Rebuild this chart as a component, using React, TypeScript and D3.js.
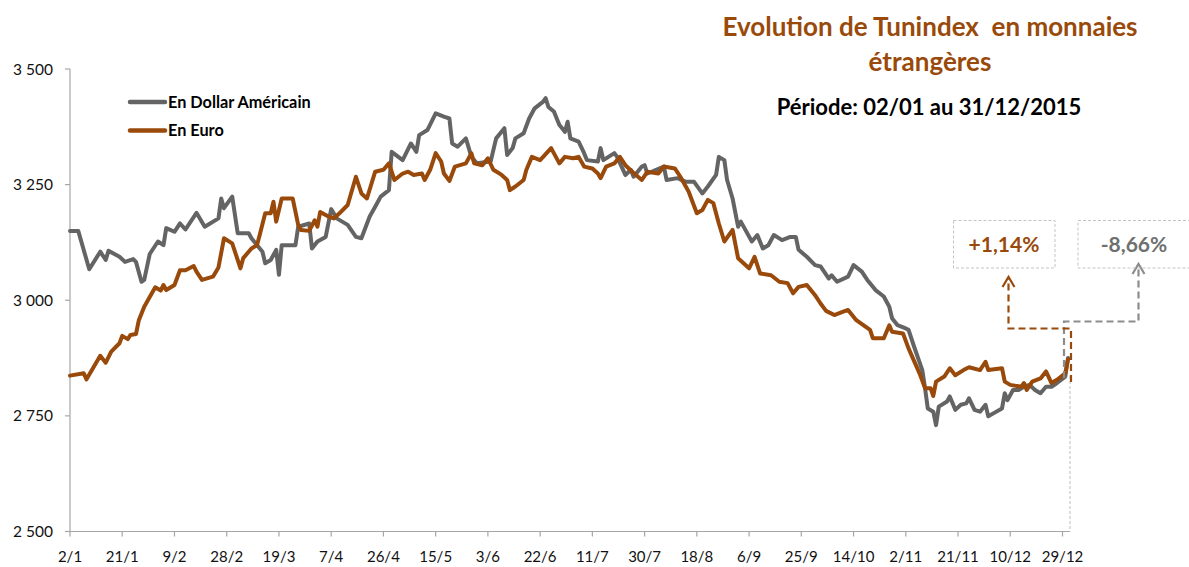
import React from "react";
import * as d3 from "d3";

// ---- Data ----
const usdDates = [
  "2/1","5/1","9/1","13/1","15/1","16/1","20/1","22/1","25/1","26/1",
  "28/1","29/1","31/1","3/2","5/2","6/2","9/2","11/2","13/2","17/2",
  "20/2","25/2","26/2","27/2","2/3","4/3","8/3","9/3","13/3","14/3",
  "16/3","18/3","19/3","20/3","25/3","26/3","30/3","31/3","2/4","5/4",
  "7/4","9/4","11/4","13/4","16/4","18/4","21/4","23/4","25/4","28/4",
  "29/4","3/5","6/5","8/5","9/5","12/5","15/5","18/5","20/5","21/5",
  "23/5","26/5","28/5","30/5","4/6","6/6","9/6","10/6","12/6","13/6",
  "16/6","18/6","20/6","23/6","24/6","25/6","27/6","29/6","30/6","1/7",
  "2/7","3/7","6/7","8/7","9/7","13/7","14/7","15/7","19/7","20/7",
  "23/7","25/7","26/7","29/7","30/7","31/7","6/8","7/8","11/8","14/8",
  "17/8","20/8","22/8","25/8","26/8","28/8","29/8","31/8","2/9","3/9",
  "7/9","9/9","11/9","13/9","15/9","18/9","21/9","23/9","24/9","27/9",
  "30/9","2/10","5/10","6/10","8/10","12/10","14/10","17/10","19/10","22/10",
  "25/10","27/10","28/10","30/10","2/11","3/11","5/11","8/11","9/11","10/11",
  "12/11","13/11","14/11","17/11","18/11","20/11","22/11","24/11","25/11","27/11",
  "29/11","1/12","2/12","4/12","7/12","8/12","9/12","11/12","13/12","15/12",
  "17/12","19/12","21/12","23/12","25/12","27/12","30/12","31/12"
];
const usdValues = [
  3150,3150,3067,3105,3087,3107,3094,3083,3089,3083,
  3040,3044,3100,3127,3119,3156,3148,3166,3153,3189,
  3159,3177,3220,3199,3224,3145,3145,3134,3105,3080,
  3087,3109,3055,3119,3119,3159,3166,3112,3127,3137,
  3197,3177,3170,3163,3137,3134,3181,3202,3224,3238,
  3321,3303,3339,3321,3357,3368,3404,3397,3393,3339,
  3332,3350,3310,3296,3300,3350,3372,3314,3329,3350,
  3361,3393,3415,3429,3437,3418,3408,3379,3372,3364,
  3386,3350,3343,3318,3303,3300,3329,3303,3318,3310,
  3271,3282,3267,3289,3292,3274,3289,3260,3264,3256,
  3256,3231,3246,3271,3310,3303,3260,3220,3159,3170,
  3127,3141,3112,3119,3141,3130,3137,3137,3109,3094,
  3076,3073,3047,3054,3040,3051,3076,3062,3044,3022,
  3008,2986,2961,2946,2939,2936,2900,2849,2810,2766,
  2759,2730,2770,2781,2792,2763,2774,2777,2788,2763,
  2759,2774,2749,2756,2766,2799,2784,2806,2806,2813,
  2817,2806,2799,2813,2813,2821,2835,2875
];
const eurDates = [
  "2/1","7/1","8/1","13/1","15/1","17/1","20/1","21/1","23/1","24/1",
  "26/1","27/1","29/1","2/2","4/2","5/2","6/2","9/2","11/2","13/2",
  "16/2","17/2","19/2","23/2","25/2","27/2","2/3","5/3","6/3","9/3",
  "11/3","12/3","14/3","16/3","17/3","18/3","20/3","24/3","26/3","27/3",
  "30/3","1/4","2/4","3/4","6/4","8/4","10/4","13/4","16/4","18/4",
  "20/4","23/4","26/4","28/4","30/4","3/5","5/5","7/5","10/5","11/5",
  "13/5","15/5","17/5","18/5","20/5","22/5","26/5","28/5","29/5","1/6",
  "3/6","5/6","8/6","10/6","11/6","13/6","16/6","17/6","19/6","22/6",
  "26/6","29/6","1/7","4/7","6/7","8/7","11/7","13/7","14/7","16/7",
  "19/7","21/7","23/7","26/7","29/7","31/7","4/8","6/8","10/8","12/8",
  "15/8","18/8","20/8","22/8","24/8","26/8","28/8","31/8","2/9","6/9",
  "8/9","10/9","14/9","17/9","20/9","22/9","24/9","27/9","30/9","2/10",
  "4/10","7/10","10/10","12/10","15/10","20/10","21/10","25/10","27/10","28/10",
  "1/11","3/11","7/11","9/11","11/11","12/11","13/11","16/11","18/11","20/11",
  "23/11","25/11","29/11","1/12","2/12","7/12","8/12","10/12","14/12","15/12",
  "16/12","18/12","21/12","23/12","25/12","27/12","30/12","31/12"
];
const eurValues = [
  2837,2842,2829,2880,2865,2889,2907,2923,2916,2925,
  2927,2956,2986,3028,3021,3033,3022,3033,3065,3065,
  3074,3062,3044,3051,3071,3134,3123,3069,3091,3112,
  3119,3141,3188,3188,3213,3170,3220,3220,3163,3152,
  3150,3173,3159,3191,3181,3177,3188,3206,3267,3231,
  3220,3278,3282,3296,3260,3274,3278,3271,3274,3260,
  3282,3318,3300,3274,3258,3289,3296,3318,3296,3292,
  3307,3282,3271,3260,3238,3246,3260,3282,3310,3303,
  3329,3296,3310,3307,3310,3289,3285,3274,3264,3289,
  3296,3310,3292,3275,3260,3278,3274,3289,3285,3267,
  3235,3188,3195,3217,3210,3166,3127,3152,3091,3069,
  3094,3058,3054,3040,3037,3015,3029,3033,3011,2993,
  2977,2968,2975,2979,2957,2936,2918,2918,2946,2932,
  2928,2896,2842,2810,2810,2793,2824,2835,2853,2838,
  2849,2855,2849,2867,2849,2853,2824,2817,2813,2821,
  2806,2824,2831,2846,2821,2828,2842,2872
];
const xTickLabels = [
  "2/1","21/1","9/2","28/2","19/3","7/4","26/4","15/5","3/6","22/6",
  "11/7","30/7","18/8","6/9","25/9","14/10","2/11","21/11","10/12","29/12"
];
const yTicks = [2500, 2750, 3000, 3250, 3500];
const seriesNames = ["En Dollar Américain", "En Euro"];
const changeLabels = ["+1,14%", "-8,66%"];
const titleLines = ["Evolution de Tunindex  en monnaies", "étrangères"];
const subtitle = "Période: 02/01 au 31/12/2015";

const ORANGE = "#994a0b";
const GRAY = "#646464";
const FONT = "Lato, 'Open Sans', sans-serif";

const parseDate = (s: string) => d3.timeParse("%d/%m/%Y")(s + "/2015") as Date;
const fmt = d3.formatLocale({ decimal: ",", thousands: " ", grouping: [3], currency: ["", ""] }).format(",");

export default function App() {
  const W = 1189, H = 567;
  const x = d3.scaleTime().domain([parseDate("2/1"), parseDate("31/12")]).range([70, 1068]);
  const y = d3.scaleLinear().domain([2500, 3500]).range([531.5, 69]);

  const usd = usdDates.map((d, i) => [parseDate(d), usdValues[i]] as [Date, number]);
  const eur = eurDates.map((d, i) => [parseDate(d), eurValues[i]] as [Date, number]);
  const line = d3.line<[Date, number]>().x(d => x(d[0])).y(d => y(d[1]));

  const xEnd = x(parseDate("31/12"));
  const axisY = y(2500);
  const oX = xEnd + 3;   // orange dashed vertical
  const gX = xEnd - 4;   // gray dashed vertical
  const oArrowX = 1008.5, gArrowX = 1138.5;
  const oH = 328.5, gH = 321.5;

  return (
    <svg width={W} height={H} style={{ position: "absolute", left: 0, top: 0, background: "#fff" }} fontFamily={FONT}>
      {/* Title */}
      <text x={930} y={36} textAnchor="middle" fill={ORANGE} fontWeight="bold" fontSize={26} style={{ whiteSpace: "pre" }}>{titleLines[0]}</text>
      <text x={930} y={71} textAnchor="middle" fill={ORANGE} fontWeight="bold" fontSize={26}>{titleLines[1]}</text>
      <text x={929} y={115} textAnchor="middle" fill="#000" fontWeight="bold" fontSize={22}>{subtitle}</text>

      {/* Axes */}
      <line x1={70} x2={70} y1={y(3500)} y2={axisY} stroke="#a6a6a6" strokeWidth={1.2} />
      {yTicks.map(t => (
        <g key={t}>
          <line x1={65} x2={70} y1={y(t)} y2={y(t)} stroke="#a6a6a6" strokeWidth={1.2} />
          <text x={53} y={y(t) + 5.5} textAnchor="end" fontSize={15.5} fill="#111">{fmt(t)}</text>
        </g>
      ))}
      <line x1={70} x2={1070} y1={axisY} y2={axisY} stroke="#a6a6a6" strokeWidth={1.2} />
      {xTickLabels.map(l => {
        const px = x(parseDate(l));
        return (
          <g key={l}>
            <line x1={px} x2={px} y1={axisY} y2={axisY + 5} stroke="#a6a6a6" strokeWidth={1.2} />
            <text x={px} y={562} textAnchor="middle" fontSize={15} fill="#111">{l}</text>
          </g>
        );
      })}

      {/* Series */}
      <path d={line(usd) || ""} fill="none" stroke={GRAY} strokeWidth={4} strokeLinejoin="round" strokeLinecap="round" />
      <path d={line(eur) || ""} fill="none" stroke={ORANGE} strokeWidth={4} strokeLinejoin="round" strokeLinecap="round" />

      {/* Legend */}
      <line x1={130} x2={165} y1={102} y2={102} stroke={GRAY} strokeWidth={4.5} strokeLinecap="round" />
      <text x={168} y={107.5} fontSize={16.3} fontWeight="bold" fill="#000">{seriesNames[0]}</text>
      <line x1={130} x2={165} y1={130.5} y2={130.5} stroke={ORANGE} strokeWidth={4.5} strokeLinecap="round" />
      <text x={168} y={136} fontSize={16.3} fontWeight="bold" fill="#000">{seriesNames[1]}</text>

      {/* Annotations */}
      <line x1={xEnd + 2} x2={xEnd + 2} y1={376} y2={axisY} stroke="#bdbdbd" strokeWidth={1} strokeDasharray="3,2" />
      <path d={`M${gX},378 V${gH} H${gArrowX} V${264}`} fill="none" stroke="#8c8c8c" strokeWidth={2.2} strokeDasharray="7,4" />
      <path d={`M${gArrowX - 6},${274} L${gArrowX},${264} L${gArrowX + 6},${274}`} fill="none" stroke="#8c8c8c" strokeWidth={2.2} />
      <path d={`M${oX},382 V${oH} H${oArrowX} V${277}`} fill="none" stroke={ORANGE} strokeWidth={2.2} strokeDasharray="7,4" />
      <path d={`M${oArrowX - 6},${287} L${oArrowX},${277} L${oArrowX + 6},${287}`} fill="none" stroke={ORANGE} strokeWidth={2.2} />

      <rect x={953.5} y={220.5} width={101.5} height={47.5} fill="none" stroke="#c4c4c4" strokeWidth={1} strokeDasharray="3,2" />
      <text x={1004} y={251.5} textAnchor="middle" fontSize={21} fontWeight="bold" fill={ORANGE}>{changeLabels[0]}</text>
      <rect x={1078} y={220.5} width={120} height={47.5} fill="none" stroke="#c4c4c4" strokeWidth={1} strokeDasharray="3,2" />
      <text x={1134} y={251.5} textAnchor="middle" fontSize={21} fontWeight="bold" fill="#6f6f6f">{changeLabels[1]}</text>
    </svg>
  );
}
